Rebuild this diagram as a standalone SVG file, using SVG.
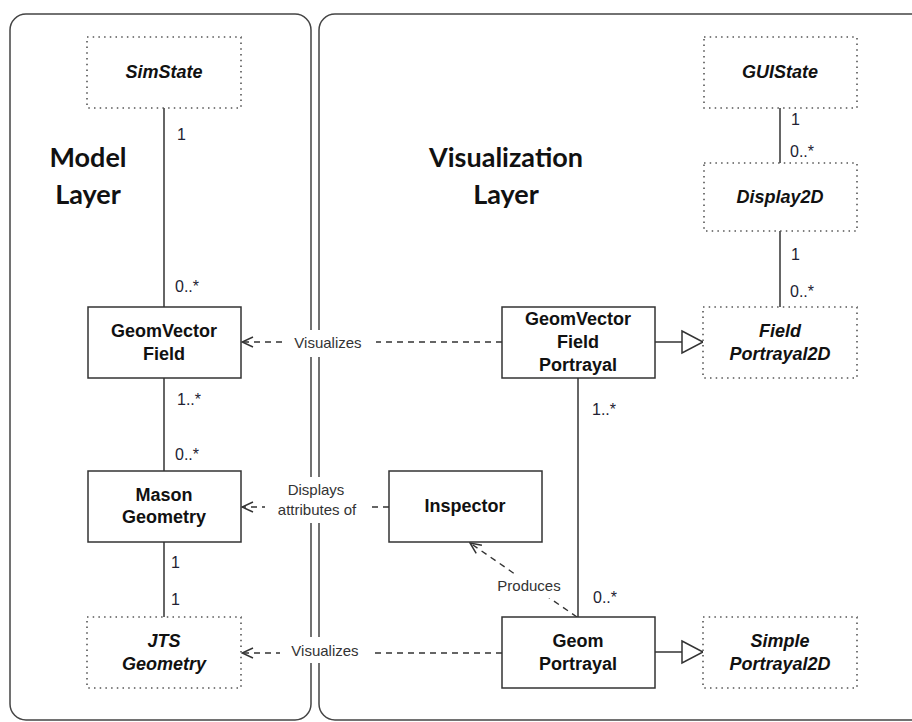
<svg xmlns="http://www.w3.org/2000/svg" width="912" height="722" viewBox="0 0 912 722">
<style>
.panel{fill:none;stroke:#444;stroke-width:1.5}
.box{fill:#fff;stroke:#333;stroke-width:1.5}
.abs{fill:#fff;stroke:#555;stroke-width:1.6;stroke-dasharray:1.5 4.2}
.solid{stroke:#333;stroke-width:1.5;fill:none}
.dash{stroke:#333;stroke-width:1.4;fill:none;stroke-dasharray:6 5}
.bt{font-family:"Liberation Sans",Arial,sans-serif;font-weight:bold;font-size:18px;fill:#111;text-anchor:middle}
.it{font-family:"Liberation Sans",Arial,sans-serif;font-weight:bold;font-style:italic;font-size:18px;fill:#111;text-anchor:middle}
.lbl{font-family:"Liberation Sans",Arial,sans-serif;font-size:15px;fill:#333;text-anchor:middle}
.mul{font-family:"Liberation Sans",Arial,sans-serif;font-size:16px;fill:#223}
.head{font-family:Lato,"Open Sans",sans-serif;font-weight:bold;font-size:27px;fill:#111;text-anchor:middle}
.wb{fill:#fff;stroke:none}
</style>
<defs>
<marker id="open" markerUnits="userSpaceOnUse" markerWidth="14" markerHeight="14" viewBox="0 0 14 14" refX="13" refY="7" orient="auto">
<path d="M2,2 L13,7 L2,12" fill="none" stroke="#333" stroke-width="1.5"/>
</marker>
<marker id="tri" markerUnits="userSpaceOnUse" markerWidth="24" markerHeight="26" viewBox="0 0 24 26" refX="22.5" refY="13" orient="auto">
<path d="M1.5,2 L22.5,13 L1.5,24 Z" fill="#fff" stroke="#333" stroke-width="1.5"/>
</marker>
</defs>
<rect width="912" height="722" fill="#fff"/>
<g id="panels">
<rect class="panel" x="10" y="14" width="301" height="706" rx="16"/>
<rect class="panel" x="319" y="14" width="620" height="706" rx="16"/>
<text class="head" x="88" y="167">Model</text>
<text class="head" x="88" y="204">Layer</text>
<text class="head" x="506" y="167">Visualization</text>
<text class="head" x="506" y="204">Layer</text>
</g>
<g id="connectors">
<line class="solid" x1="164" y1="108" x2="164" y2="307"/>
<line class="solid" x1="164" y1="378" x2="164" y2="471"/>
<line class="solid" x1="164" y1="542" x2="164" y2="617"/>
<line class="solid" x1="780" y1="108" x2="780" y2="163"/>
<line class="solid" x1="780" y1="231" x2="780" y2="307"/>
<line class="solid" x1="578" y1="378" x2="578" y2="617"/>
<line class="solid" x1="655" y1="342" x2="703" y2="342" marker-end="url(#tri)"/>
<line class="solid" x1="655" y1="652" x2="703" y2="652" marker-end="url(#tri)"/>
<line class="dash" x1="502" y1="342" x2="242" y2="342" marker-end="url(#open)"/>
<line class="dash" x1="389" y1="507" x2="242" y2="507" marker-end="url(#open)"/>
<line class="dash" x1="502" y1="653" x2="242" y2="653" marker-end="url(#open)"/>
<line class="dash" x1="577" y1="617" x2="470" y2="543" marker-end="url(#open)"/>
<rect class="wb" x="282" y="330" width="94" height="27"/>
<rect class="wb" x="265" y="477" width="103" height="46"/>
<rect class="wb" x="280" y="637" width="94" height="26"/>
<rect class="wb" x="492" y="574" width="74" height="24"/>
<text class="lbl" x="328" y="348">Visualizes</text>
<text class="lbl" x="316" y="495">Displays</text>
<text class="lbl" x="317" y="515">attributes of</text>
<text class="lbl" x="325" y="656">Visualizes</text>
<text class="lbl" x="529" y="591">Produces</text>
<text class="mul" x="177" y="140">1</text>
<text class="mul" x="175" y="292">0..*</text>
<text class="mul" x="177" y="405">1..*</text>
<text class="mul" x="175" y="460">0..*</text>
<text class="mul" x="171" y="568">1</text>
<text class="mul" x="171" y="605">1</text>
<text class="mul" x="791" y="125">1</text>
<text class="mul" x="790" y="157">0..*</text>
<text class="mul" x="791" y="260">1</text>
<text class="mul" x="790" y="297">0..*</text>
<text class="mul" x="592" y="415">1..*</text>
<text class="mul" x="593" y="603">0..*</text>
</g>
<g id="SimState"><rect class="abs" x="87" y="37" width="154" height="71"/><text class="it" x="164" y="78">SimState</text></g>
<g id="GeomVectorField"><rect class="box" x="88" y="307" width="153" height="71"/><text class="bt" x="164" y="337">GeomVector</text><text class="bt" x="164" y="360">Field</text></g>
<g id="MasonGeometry"><rect class="box" x="88" y="471" width="153" height="71"/><text class="bt" x="164" y="501">Mason</text><text class="bt" x="164" y="523">Geometry</text></g>
<g id="JTSGeometry"><rect class="abs" x="87" y="617" width="154" height="71"/><text class="it" x="164" y="647">JTS</text><text class="it" x="164" y="670">Geometry</text></g>
<g id="GUIState"><rect class="abs" x="704" y="37" width="153" height="71"/><text class="it" x="780" y="78">GUIState</text></g>
<g id="Display2D"><rect class="abs" x="704" y="163" width="153" height="68"/><text class="it" x="780" y="203">Display2D</text></g>
<g id="FieldPortrayal2D"><rect class="abs" x="703" y="307" width="154" height="71"/><text class="it" x="780" y="337">Field</text><text class="it" x="780" y="360">Portrayal2D</text></g>
<g id="GeomVectorFieldPortrayal"><rect class="box" x="502" y="307" width="153" height="71"/><text class="bt" x="578" y="325">GeomVector</text><text class="bt" x="578" y="348">Field</text><text class="bt" x="578" y="371">Portrayal</text></g>
<g id="Inspector"><rect class="box" x="389" y="471" width="153" height="71"/><text class="bt" x="465" y="512">Inspector</text></g>
<g id="GeomPortrayal"><rect class="box" x="502" y="617" width="153" height="71"/><text class="bt" x="578" y="647">Geom</text><text class="bt" x="578" y="670">Portrayal</text></g>
<g id="SimplePortrayal2D"><rect class="abs" x="703" y="617" width="154" height="71"/><text class="it" x="780" y="647">Simple</text><text class="it" x="780" y="670">Portrayal2D</text></g>
</svg>
